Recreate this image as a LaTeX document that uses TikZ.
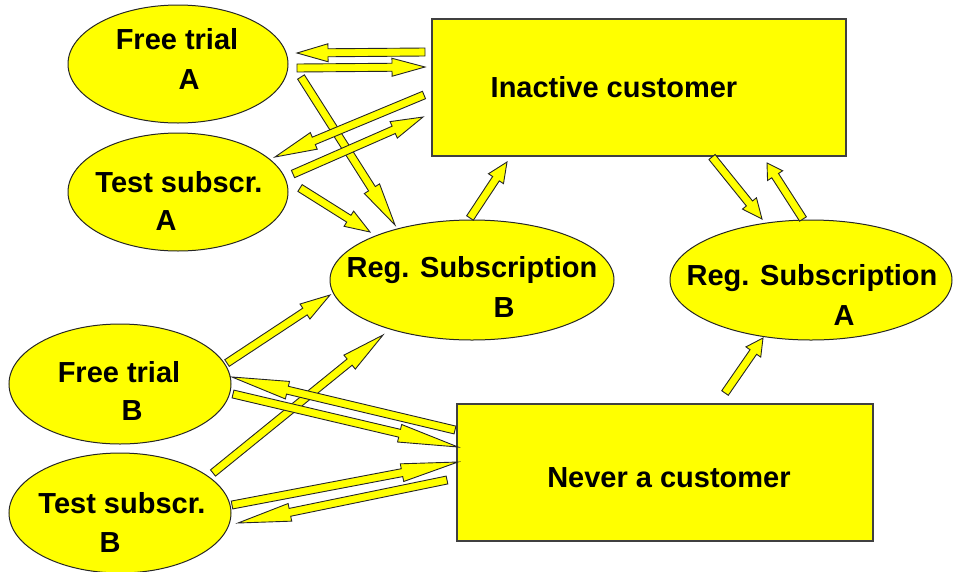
\documentclass[tikz,border=0pt]{standalone}
\usepackage{fontspec}
\setmainfont{Liberation Sans}
\usetikzlibrary{shapes.geometric,calc}
\definecolor{yel}{RGB}{255,255,0}
\tikzset{
  ell/.style={ellipse,draw=black!85,line width=1pt,fill=yel,inner sep=0pt},
  box/.style={rectangle,draw=black!75,line width=1.3pt,fill=yel,inner sep=0pt},
  txt/.style={font=\fontsize{29}{31}\selectfont\bfseries,anchor=base,inner sep=0pt},
  blockarrow/.style={fill=yel,draw=black!85,line width=0.9pt,line join=miter}
}
% block arrow from coordinate #1 (tail) to coordinate #2 (tip), head length #3 (pt)
\newcommand\barrow[3]{%
  \coordinate (bb) at ($(#2)!#3pt!(#1)$);
  \filldraw[blockarrow]
    ($(#1)!4pt!90:(#2)$) -- ($(bb)!4pt!-90:(#1)$) -- ($(bb)!9pt!-90:(#1)$) --
    (#2) --
    ($(bb)!9pt!90:(#1)$) -- ($(bb)!4pt!90:(#1)$) -- ($(#1)!4pt!-90:(#2)$) -- cycle;
}
\begin{document}
\begin{tikzpicture}[x=1pt,y=-1pt]
\useasboundingbox (0,0) rectangle (953,571);
% shapes
\node[ell,minimum width=220pt,minimum height=118pt] (fa) at (178,64) {};
\node[ell,minimum width=220pt,minimum height=118pt] (ta) at (178,192) {};
\node[ell,minimum width=284pt,minimum height=120pt] (rb) at (472,280) {};
\node[ell,minimum width=282pt,minimum height=120pt] (ra) at (811,280) {};
\node[ell,minimum width=222pt,minimum height=120pt] (fb) at (120,384) {};
\node[ell,minimum width=222pt,minimum height=120pt] (tb) at (120,513) {};
\node[box,minimum width=414pt,minimum height=137pt] (ic) at (639,87.5) {};
\node[box,minimum width=416pt,minimum height=137pt] (nc) at (665,472.5) {};
% texts
\node[txt] (fa1) at (177,49) {Free trial};
\node[txt] (fa2) at (189,89) {A};
\node[txt] (ta1) at (179,192) {Test subscr.};
\node[txt] (ta2) at (166,230) {A};
\node[txt] (rb1) at (472,277) {Reg. Subscription};
\node[txt] (rb2) at (504,317) {B};
\node[txt] (ra1) at (812,285) {Reg. Subscription};
\node[txt] (ra2) at (844,325) {A};
\node[txt] (fb1) at (119,382) {Free trial};
\node[txt] (fb2) at (132,420) {B};
\node[txt] (tb1) at (122,513) {Test subscr.};
\node[txt] (tb2) at (110,552) {B};
\node[txt] (ic1) at (614,97) {Inactive customer};
\node[txt] (nc1) at (669,487) {Never a customer};
% arrow end points
\coordinate (a1s) at (425,52);  \coordinate (a1e) at (297,53);
\coordinate (a2s) at (297,68);  \coordinate (a2e) at (425,67);
\coordinate (a3s) at (301,77);  \coordinate (a3e) at (395,225);
\coordinate (a4s) at (424,95);  \coordinate (a4e) at (275,157);
\coordinate (a5s) at (293,174); \coordinate (a5e) at (423,117);
\coordinate (a6s) at (300,188); \coordinate (a6e) at (370,232);
\coordinate (a7s) at (470,218); \coordinate (a7e) at (507,162);
\coordinate (a8s) at (712,157); \coordinate (a8e) at (762,219);
\coordinate (a9s) at (803,219); \coordinate (a9e) at (767,163);
\coordinate (a10s) at (725,393); \coordinate (a10e) at (763,338);
\coordinate (a11s) at (455,430); \coordinate (a11e) at (232,377);
\coordinate (a12s) at (233,394); \coordinate (a12e) at (458,447);
\coordinate (a13s) at (213,473); \coordinate (a13e) at (383,335);
\coordinate (a14s) at (232,505); \coordinate (a14e) at (458,462);
\coordinate (a15s) at (447,480); \coordinate (a15e) at (238,523);
\coordinate (a16s) at (227,363); \coordinate (a16e) at (330,295);
% arrows
\barrow{a3s}{a3e}{43}
\barrow{a1s}{a1e}{31}
\barrow{a2s}{a2e}{33}
\barrow{a4s}{a4e}{42}
\barrow{a5s}{a5e}{32}
\barrow{a6s}{a6e}{25}
\barrow{a7s}{a7e}{20}
\barrow{a8s}{a8e}{20}
\barrow{a9s}{a9e}{15}
\barrow{a10s}{a10e}{17}
\barrow{a13s}{a13e}{43}
\barrow{a11s}{a11e}{57}
\barrow{a12s}{a12e}{60}
\barrow{a14s}{a14e}{57}
\barrow{a15s}{a15e}{53}
\barrow{a16s}{a16e}{30}
\end{tikzpicture}
\end{document}
